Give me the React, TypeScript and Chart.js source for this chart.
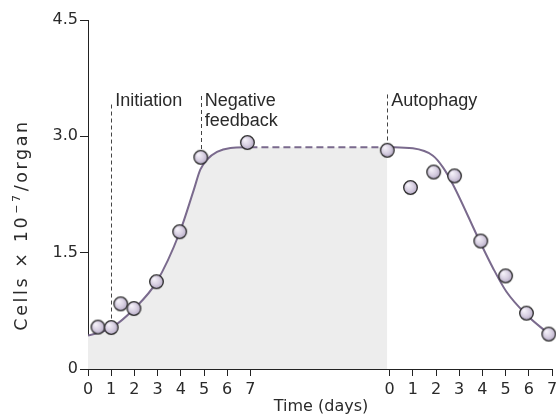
import React, { useEffect, useRef } from 'react';
import { Chart, registerables } from 'chart.js';

Chart.register(...registerables);

// ---- axis layout values ----
const SECOND_OFFSET = 13; // position where the second time axis (autophagy phase) starts
const TICK_DAYS = [0, 1, 2, 3, 4, 5, 6, 7];
const Y_TICKS = [0, 1.5, 3.0, 4.5];
const Y_MAX = 4.5;

// ---- measured points: growth phase (days on first axis) ----
const growthDays = [0.43, 1.0, 1.41, 1.98, 2.95, 3.95, 4.86, 6.87];
const growthCells = [0.54, 0.535, 0.84, 0.78, 1.125, 1.77, 2.73, 2.92];

// ---- measured points: autophagy phase (days on second axis) ----
const autoDays = [-0.1, 0.9, 1.9, 2.8, 3.93, 5.0, 5.9, 6.86];
const autoCells = [2.82, 2.34, 2.54, 2.49, 1.65, 1.2, 0.72, 0.45];

// ---- fitted curve: growth phase ----
const fitGrowthDays = [0, 1.0, 2.0, 2.95, 3.95, 4.56, 4.84, 5.13, 5.56, 6.14, 7.0];
const fitGrowthCells = [0.43, 0.53, 0.78, 1.12, 1.76, 2.31, 2.57, 2.7, 2.8, 2.85, 2.86];
// dashed plateau bridge between the two phases
const PLATEAU_CELLS = 2.86;

// ---- fitted curve: autophagy phase (days on second axis) ----
const fitAutoDays = [-0.1, 1.0, 1.87, 2.3, 2.73, 3.88, 4.46, 5.03, 5.9, 6.83];
const fitAutoCells = [2.86, 2.845, 2.75, 2.6, 2.38, 1.65, 1.3, 1.0, 0.7, 0.46];

// ---- annotations ----
const markerLabels = [['Initiation'], ['Negative', 'feedback'], ['Autophagy']];
const markerPos = [1.0, 4.86, SECOND_OFFSET - 0.1];
const markerTopCells = [3.41, 3.52, 3.54];
const markerBottomCells = [0.535, 2.73, 2.82];
const LABEL_BASELINE_CELLS = 3.39;

const X_TITLE = 'Time (days)';
const Y_TITLE_MAIN = 'Cells × 10';
const Y_TITLE_SUP = '−7';
const Y_TITLE_END = '/organ';

const CURVE_COLOR = '#7a6a8d';
const FILL_COLOR = '#ededed';
const AXIS_COLOR = '#222222';
const TEXT_COLOR = '#2a2a2a';

function makeBubble(r: number): HTMLCanvasElement {
  const s = Math.ceil(r * 2 + 2);
  const c = document.createElement('canvas');
  c.width = s;
  c.height = s;
  const g = c.getContext('2d')!;
  const cx = s / 2;
  const grad = g.createRadialGradient(cx - r * 0.35, cx - r * 0.4, 0.5, cx, cx, r);
  grad.addColorStop(0, '#f6f3fa');
  grad.addColorStop(0.55, '#d8d0e2');
  grad.addColorStop(1, '#afa3c0');
  g.beginPath();
  g.arc(cx, cx, r - 0.7, 0, Math.PI * 2);
  g.fillStyle = grad;
  g.fill();
  g.lineWidth = 1.3;
  g.strokeStyle = '#2a2a2a';
  g.stroke();
  return c;
}

const annotationPlugin = {
  id: 'annotations',
  beforeDatasetsDraw(chart: any) {
    const { ctx, scales } = chart;
    const xs = scales.x;
    const ys = scales.y;
    ctx.save();
    ctx.strokeStyle = '#444';
    ctx.lineWidth = 1;
    ctx.setLineDash([4, 3]);
    markerPos.forEach((d, i) => {
      const px = Math.round(xs.getPixelForValue(d)) + 0.5;
      ctx.beginPath();
      ctx.moveTo(px, ys.getPixelForValue(markerTopCells[i]));
      ctx.lineTo(px, ys.getPixelForValue(markerBottomCells[i]));
      ctx.stroke();
    });
    ctx.restore();
  },
  afterDraw(chart: any) {
    const { ctx, scales, chartArea } = chart;
    const xs = scales.x;
    const ys = scales.y;
    ctx.save();
    ctx.fillStyle = TEXT_COLOR;
    ctx.textBaseline = 'alphabetic';
    ctx.textAlign = 'left';
    ctx.font = '18px "Liberation Sans", Arial, sans-serif';
    const base = ys.getPixelForValue(LABEL_BASELINE_CELLS);
    markerPos.forEach((d, i) => {
      const px = xs.getPixelForValue(d) + 4;
      markerLabels[i].forEach((line, j) => {
        ctx.fillText(line, px, base + j * 20);
      });
    });

    // x title
    ctx.font = '16px "DejaVu Sans", sans-serif';
    ctx.textAlign = 'center';
    ctx.fillText(X_TITLE, (chartArea.left + chartArea.right) / 2 + 1, 411);

    // y title (rotated)
    const mainFont = '17.5px "DejaVu Sans", sans-serif';
    const supFont = '11px "DejaVu Sans", sans-serif';
    (ctx as any).letterSpacing = '2.6px';
    ctx.textAlign = 'left';
    ctx.font = mainFont;
    const w1 = ctx.measureText(Y_TITLE_MAIN).width;
    const w3 = ctx.measureText(Y_TITLE_END).width;
    ctx.font = supFont;
    const w2 = ctx.measureText(Y_TITLE_SUP).width;
    const total = w1 + w2 + w3 + 2;
    ctx.translate(27, 225);
    ctx.rotate(-Math.PI / 2);
    let x = -total / 2;
    ctx.font = mainFont;
    ctx.fillText(Y_TITLE_MAIN, x, 0);
    x += w1 + 1;
    ctx.font = supFont;
    ctx.fillText(Y_TITLE_SUP, x, -7);
    x += w2 + 1;
    ctx.font = mainFont;
    ctx.fillText(Y_TITLE_END, x, 0);
    ctx.restore();
  },
};

export default function App() {
  const ref = useRef<HTMLCanvasElement | null>(null);

  useEffect(() => {
    if (!ref.current) return;
    const bubble = makeBubble(7.5);

    const growthCurve = fitGrowthDays.map((d, i) => ({ x: d, y: fitGrowthCells[i] }));
    const bridgeEnd = { x: SECOND_OFFSET + fitAutoDays[0], y: PLATEAU_CELLS };
    const shadedArea = [...growthCurve, bridgeEnd];
    const bridge = [growthCurve[growthCurve.length - 1], bridgeEnd];
    const autoCurve = fitAutoDays.map((d, i) => ({ x: d + SECOND_OFFSET, y: fitAutoCells[i] }));
    const points = [
      ...growthDays.map((d, i) => ({ x: d, y: growthCells[i] })),
      ...autoDays.map((d, i) => ({ x: d + SECOND_OFFSET, y: autoCells[i] })),
    ];

    const tickFont = { family: '"DejaVu Sans", sans-serif', size: 16 };

    const chart = new Chart(ref.current, {
      type: 'scatter',
      data: {
        datasets: [
          {
            label: 'measured',
            data: points,
            showLine: false,
            pointStyle: bubble as any,
            pointRadius: 7,
            clip: false as any,
            order: 0,
          },
          {
            label: 'fit growth',
            data: growthCurve,
            showLine: true,
            borderColor: CURVE_COLOR,
            borderWidth: 2,
            pointRadius: 0,
            cubicInterpolationMode: 'monotone',
            fill: false,
            order: 1,
          } as any,
          {
            label: 'plateau',
            data: bridge,
            showLine: true,
            borderColor: CURVE_COLOR,
            borderWidth: 2,
            borderDash: [7, 4],
            pointRadius: 0,
            fill: false,
            order: 1,
          } as any,
          {
            label: 'fit autophagy',
            data: autoCurve,
            showLine: true,
            borderColor: CURVE_COLOR,
            borderWidth: 2,
            pointRadius: 0,
            cubicInterpolationMode: 'monotone',
            fill: false,
            order: 1,
          } as any,
          {
            label: 'shaded',
            data: shadedArea,
            showLine: true,
            borderWidth: 0,
            borderColor: 'rgba(0,0,0,0)',
            pointRadius: 0,
            cubicInterpolationMode: 'monotone',
            fill: 'origin',
            backgroundColor: FILL_COLOR,
            order: 3,
          } as any,
        ],
      },
      options: {
        animation: false,
        responsive: false,
        events: [],
        layout: { autoPadding: false, padding: { top: 20, right: 4, left: 0, bottom: 0 } },
        plugins: {
          legend: { display: false },
          tooltip: { enabled: false },
        },
        scales: {
          x: {
            type: 'linear',
            min: 0,
            max: SECOND_OFFSET + 7,
            z: 1,
            afterBuildTicks: (s: any) => {
              s.ticks = [
                ...TICK_DAYS.map((d) => ({ value: d })),
                ...TICK_DAYS.map((d) => ({ value: d + SECOND_OFFSET })),
              ];
            },
            afterFit: (s: any) => {
              s.height = 47;
              s.paddingLeft = 0;
              s.paddingRight = 0;
            },
            ticks: {
              autoSkip: false,
              maxRotation: 0,
              padding: 4,
              color: TEXT_COLOR,
              font: tickFont,
              callback: (v: any) => String(v > 7 ? v - SECOND_OFFSET : v),
            },
            grid: { drawOnChartArea: false, drawTicks: true, tickLength: 7, color: AXIS_COLOR, lineWidth: 1 },
            border: { display: true, color: AXIS_COLOR, width: 1 },
          },
          y: {
            type: 'linear',
            min: 0,
            max: Y_MAX,
            z: 1,
            afterBuildTicks: (s: any) => {
              s.ticks = Y_TICKS.map((v) => ({ value: v }));
            },
            afterFit: (s: any) => {
              s.width = 88;
              s.paddingTop = 0;
              s.paddingBottom = 0;
            },
            ticks: {
              padding: 2,
              color: TEXT_COLOR,
              font: tickFont,
              callback: (v: any) => (v === 0 ? '0' : Number(v).toFixed(1)),
            },
            grid: { drawOnChartArea: false, drawTicks: true, tickLength: 8, color: AXIS_COLOR, lineWidth: 1 },
            border: { display: true, color: AXIS_COLOR, width: 1 },
          },
        },
      } as any,
      plugins: [annotationPlugin],
    });

    return () => chart.destroy();
  }, []);

  return (
    <div style={{ position: 'fixed', left: 0, top: 0, width: 556, height: 416, background: '#fff' }}>
      <canvas ref={ref} width={556} height={416} style={{ width: 556, height: 416, display: 'block' }} />
    </div>
  );
}
